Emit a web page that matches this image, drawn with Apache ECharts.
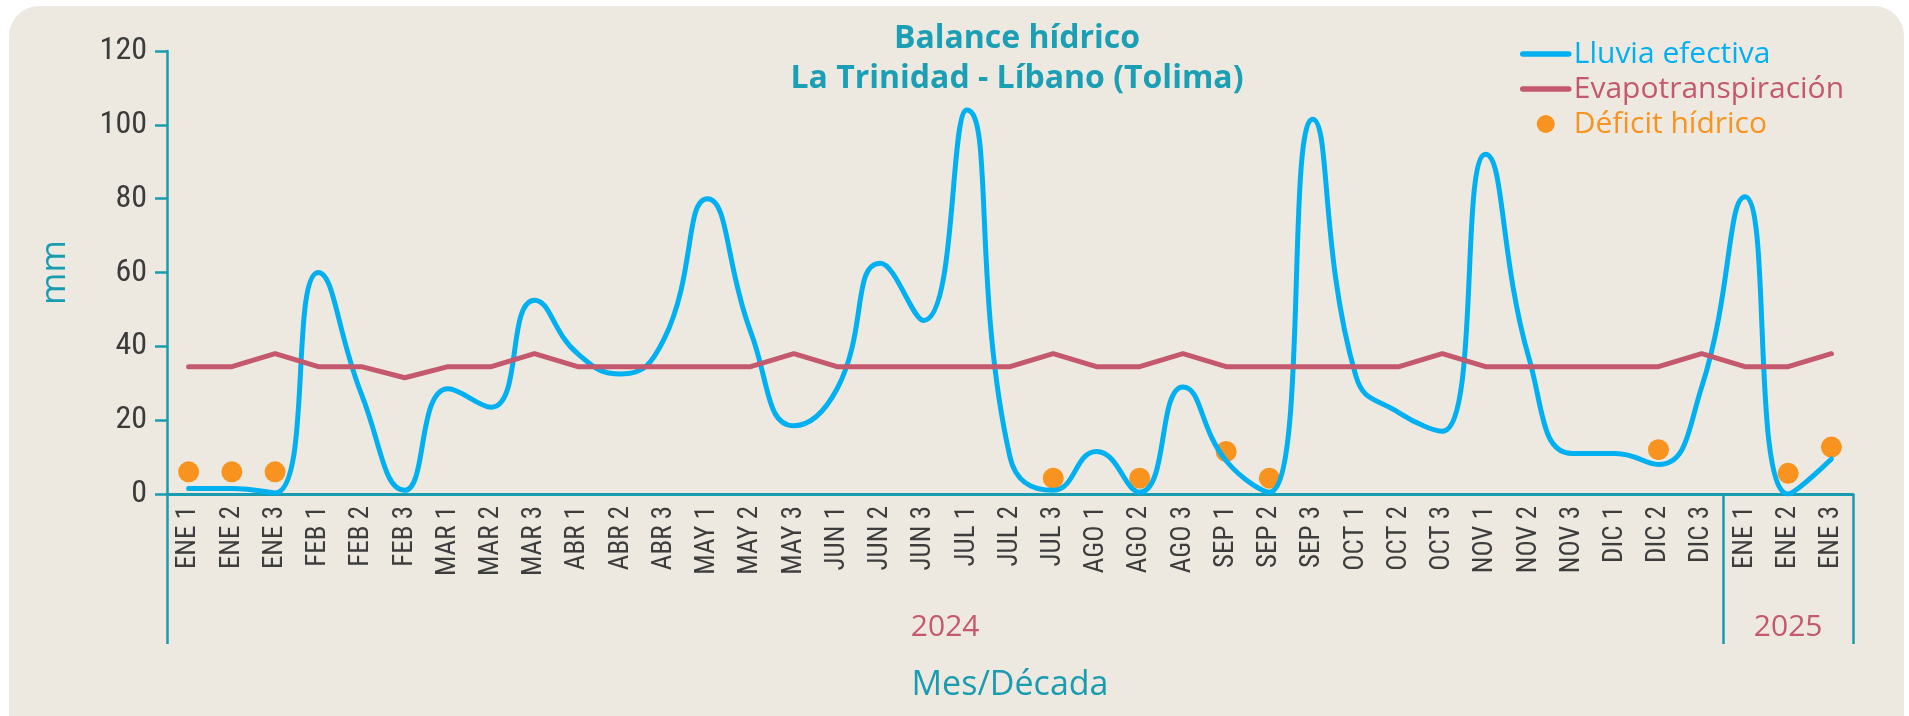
<!DOCTYPE html>
<html>
<head>
<meta charset="utf-8">
<script src="https://cdn.jsdelivr.net/npm/echarts@6/dist/echarts.min.js"></script>
<style>
  body { margin: 0; background: #ffffff; overflow: hidden; }
  #bg {
    position: absolute; left: 9px; top: 6px; width: 1895px; height: 760px;
    background: #ede9e1; border-radius: 30px;
  }
  #main { position: absolute; left: 0; top: 0; width: 1909px; height: 716px; }
</style>
</head>
<body>
<div id="bg"></div>
<div id="main"></div>
<script>
// categorías (mes / década)
const categories = [
  "ENE 1", "ENE 2", "ENE 3", "FEB 1", "FEB 2", "FEB 3", "MAR 1", "MAR 2", "MAR 3",
  "ABR 1", "ABR 2", "ABR 3", "MAY 1", "MAY 2", "MAY 3", "JUN 1", "JUN 2", "JUN 3",
  "JUL 1", "JUL 2", "JUL 3", "AGO 1", "AGO 2", "AGO 3", "SEP 1", "SEP 2", "SEP 3",
  "OCT 1", "OCT 2", "OCT 3", "NOV 1", "NOV 2", "NOV 3", "DIC 1", "DIC 2", "DIC 3",
  "ENE 1", "ENE 2", "ENE 3"
];
const years = ["2024", "2025"];
const yearSpans = [36, 3];

const lluviaEfectiva = [
  1.5, 1.5, 0.3, 60, 27, 1, 28.5, 23.5, 52.5,
  38, 32.5, 42, 80, 44, 18.5, 28.5, 62.5, 47,
  104, 10, 1, 11.5, 0.5, 29, 9, 0.5, 101.5,
  32, 22, 17, 92, 37, 11, 11, 8, 29,
  80.5, 0, 9.5
];
const evapotranspiracion = [
  34.5, 34.5, 38, 34.5, 34.5, 31.5, 34.5, 34.5, 38,
  34.5, 34.5, 34.5, 34.5, 34.5, 38, 34.5, 34.5, 34.5,
  34.5, 34.5, 38, 34.5, 34.5, 38, 34.5, 34.5, 34.5,
  34.5, 34.5, 38, 34.5, 34.5, 34.5, 34.5, 34.5, 38,
  34.5, 34.5, 38
];
const deficitHidrico = [
  6, 6, 6, null, null, null, null, null, null,
  null, null, null, null, null, null, null, null, null,
  null, null, 4.3, null, 4.3, null, 11.5, 4.3, null,
  null, null, null, null, null, null, null, 12, null,
  null, 5.6, 12.7
];

const teal = "#1a9cb0";
const blue = "#00b0f0";
const rose = "#c4586d";
const orange = "#f7931e";
const narrow = "'Liberation Sans Narrow', 'Roboto Condensed', Roboto, sans-serif";

// límites y centros de los grupos de año
let yearEdges = [0];
let yearCenters = [];
yearSpans.forEach(function (s) {
  const start = yearEdges[yearEdges.length - 1];
  yearCenters.push(start + s / 2);
  yearEdges.push(start + s);
});

const chart = echarts.init(document.getElementById("main"), null, { renderer: "canvas" });

const option = {
  backgroundColor: "transparent",
  textStyle: { fontFamily: "'Open Sans', sans-serif" },
  title: {
    text: "Balance hídrico\nLa Trinidad - Líbano (Tolima)",
    left: 1012,
    top: 14,
    textAlign: "center",
    textStyle: {
      color: "#1a9fb5",
      fontSize: 32,
      fontWeight: "bold",
      lineHeight: 40,
      fontFamily: "'Open Sans', sans-serif"
    }
  },
  legend: {
    orient: "vertical",
    left: 1515,
    top: 34,
    itemWidth: 46,
    itemHeight: 18,
    itemGap: 5,
    textStyle: { fontSize: 30, fontFamily: "'Open Sans', sans-serif" },
    data: [
      {
        name: "Lluvia efectiva",
        itemStyle: { opacity: 0 },
        lineStyle: { width: 5.5, cap: "round", color: blue },
        textStyle: { color: blue }
      },
      {
        name: "Evapotranspiración",
        itemStyle: { opacity: 0 },
        lineStyle: { width: 5.5, cap: "round", color: rose },
        textStyle: { color: rose }
      },
      { name: "Déficit hídrico", icon: "circle", textStyle: { color: orange } }
    ]
  },
  grid: { left: 167, right: 56, top: 51, bottom: 222 },
  xAxis: [
    {
      type: "category",
      data: categories,
      boundaryGap: true,
      name: "Mes/Década",
      nameLocation: "middle",
      nameGap: 174,
      nameTextStyle: { color: teal, fontSize: 34, fontFamily: "'Open Sans', sans-serif" },
      axisLine: { lineStyle: { color: teal, width: 3 } },
      axisTick: { inside: true, alignWithLabel: true, interval: 0, length: 11, lineStyle: { color: teal, width: 2.5 } },
      axisLabel: {
        interval: 0,
        rotate: 90,
        margin: 12,
        color: "#3d3d3d",
        fontSize: 27,
        fontFamily: narrow
      },
      splitLine: { show: false }
    },
    {
      type: "value",
      position: "bottom",
      min: 0,
      max: categories.length,
      axisLine: { show: false },
      splitLine: { show: false },
      axisTick: {
        show: true,
        customValues: yearEdges,
        length: 150,
        lineStyle: { color: teal, width: 2.5 }
      },
      axisLabel: {
        customValues: yearCenters,
        margin: 118,
        color: rose,
        fontSize: 30,
        fontFamily: "'Open Sans', sans-serif",
        formatter: function (v) {
          return years[yearCenters.indexOf(v)];
        }
      }
    }
  ],
  yAxis: {
    type: "value",
    min: 0,
    max: 120,
    interval: 20,
    name: "mm",
    nameLocation: "middle",
    nameGap: 94,
    nameTextStyle: { color: teal, fontSize: 35, fontFamily: "'Open Sans', sans-serif" },
    axisLine: { show: true, lineStyle: { color: teal, width: 2.5 } },
    axisTick: { show: true, length: 12, lineStyle: { color: teal, width: 2.5 } },
    axisLabel: { margin: 20, color: "#3b3b3b", fontSize: 32, fontFamily: narrow },
    splitLine: { show: false }
  },
  series: [
    {
      name: "Lluvia efectiva",
      type: "line",
      data: lluviaEfectiva,
      smooth: 0.5,
      symbol: "none",
      color: blue,
      lineStyle: { color: blue, width: 5, cap: "round" }
    },
    {
      name: "Evapotranspiración",
      type: "line",
      data: evapotranspiracion,
      symbol: "none",
      color: rose,
      lineStyle: { color: rose, width: 5, cap: "round" }
    },
    {
      name: "Déficit hídrico",
      type: "scatter",
      data: deficitHidrico,
      symbolSize: 21,
      color: orange,
      itemStyle: { color: orange, opacity: 1 }
    }
  ]
};

chart.setOption(option);
</script>
</body>
</html>
